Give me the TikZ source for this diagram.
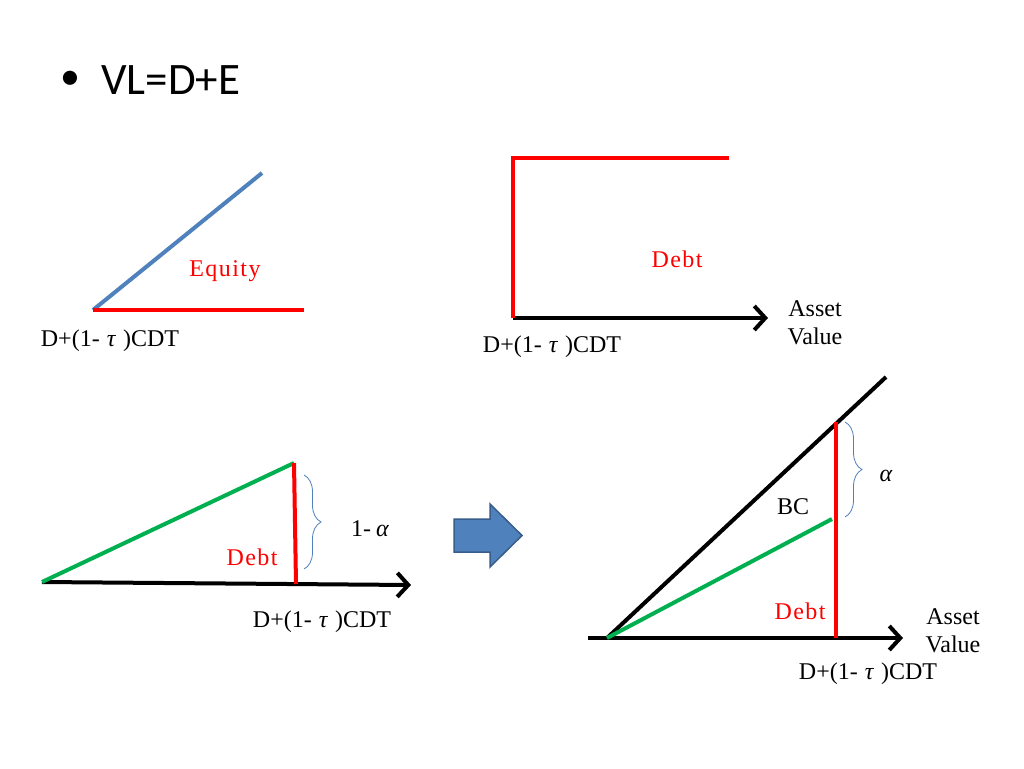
\documentclass[tikz,border=0pt]{standalone}
\usepackage{fontspec}
\setmainfont{Liberation Serif}
\newfontfamily\redfont[LetterSpace=6]{Liberation Serif}
\newfontfamily\slidefont{Carlito}
\usetikzlibrary{arrows.meta,decorations.pathreplacing}

\definecolor{pptred}{rgb}{1.000000, 0.000000, 0.000000}
\definecolor{pptblue}{rgb}{0.309804, 0.505882, 0.741176}
\definecolor{pptgreen}{rgb}{0.000000, 0.690196, 0.313725}
\definecolor{pptborder}{rgb}{0.219608, 0.364706, 0.541176}

\newlength{\du}
\setlength{\du}{1pt}

\newcommand{\cdtlabel}{D+(1-\hspace{7\du}\textit{τ}\hspace{7\du})CDT}

\tikzset{
  redline/.style={draw=pptred,line width=4\du},
  blueline/.style={draw=pptblue,line width=4\du},
  greenline/.style={draw=pptgreen,line width=4\du},
  blackline/.style={draw=black,line width=4\du},
  axisline/.style={draw=black,line width=4\du,-{Straight Barb[length=11pt,width=24pt]}},
  bracepath/.style={draw=pptblue,line width=0.8\du,decorate,decoration={brace,amplitude=17pt}},
  redlabel/.style={text=pptred,font=\redfont\fontsize{24}{28}\selectfont,inner sep=0pt},
  axislabel/.style={font=\fontsize{24}{28}\selectfont,inner sep=0pt},
  stacked/.style={font=\fontsize{24}{28}\selectfont,align=center,inner sep=0pt},
}

\begin{document}
\begin{tikzpicture}[x=1\du,y=-1\du]
\useasboundingbox[fill=white] (0,0) rectangle (1024,768);
% title
\node[font=\slidefont\fontsize{40}{48}\selectfont,inner sep=0pt] (bullet) at (70,80) {•};
\node[font=\slidefont\fontsize{45}{54}\selectfont,inner sep=0pt,anchor=base west] (title) at (101,94) {VL=D+E};
% equity payoff
\coordinate (eqo) at (93,310);
\coordinate (eqtop) at (262,173);
\coordinate (eqend) at (304,310);
\draw[blueline] (eqo)--(eqtop);
\draw[redline] (eqo)--(eqend);
\node[redlabel] (eqlab) at (225,271) {Equity};
\node[axislabel] (eqcdt) at (110,341) {\cdtlabel};
% debt payoff
\coordinate (dbo) at (513,318);
\coordinate (dbup) at (513,158);
\coordinate (dbend) at (729,158);
\coordinate (dbax) at (768,318);
\draw[axisline] (dbo)--(dbax);
\draw[redline] (dbo)--(dbup)--(dbend);
\node[redlabel] (dblab) at (677,259) {Debt};
\node[axislabel] (dbcdt) at (552,347) {\cdtlabel};
\node[stacked] (dbasset) at (815,323) {Asset\\Value};
% recovery, 1-alpha
\coordinate (rco) at (42,582);
\coordinate (rcax) at (411,585);
\coordinate (rctop) at (294,463);
\coordinate (rcfoot) at (296,584);
\coordinate (rcbr) at (304,475);
\coordinate (rcbl) at (304,569);
\draw[axisline] (rco)--(rcax);
\draw[greenline] (rco)--(rctop);
\draw[redline] (rctop)--(rcfoot);
\draw[bracepath] (rcbr)--(rcbl);
\node[axislabel] (rcalpha) at (370,529) {1-\hspace{5\du}\textit{α}};
\node[redlabel] (rclab) at (252,557) {Debt};
\node[axislabel] (rccdt) at (322,622) {\cdtlabel};
% block arrow
\filldraw[fill=pptblue,draw=pptborder,line width=1.5\du] (454,519)--(490,519)--(490,504)--(522,535.5)--(490,567)--(490,552)--(454,552)--cycle;
% bankruptcy cost, alpha
\coordinate (bco) at (588,638);
\coordinate (bcax) at (903,638);
\coordinate (bcstart) at (607,638);
\coordinate (bctop) at (886,377);
\coordinate (bcred) at (836,422);
\coordinate (bcfoot) at (836,638);
\coordinate (bcgreen) at (832,519);
\coordinate (bcbr) at (845,422);
\coordinate (bcbl) at (845,517);
\draw[axisline] (bco)--(bcax);
\draw[blackline] (bcstart)--(bctop);
\draw[redline] (bcred)--(bcfoot);
\draw[greenline] (bcstart)--(bcgreen);
\draw[bracepath] (bcbr)--(bcbl);
\node[axislabel] (bcalpha) at (886,476) {\textit{α}};
\node[axislabel] (bclab) at (793,507) {BC};
\node[redlabel] (bcdebt) at (800,611) {Debt};
\node[stacked] (bcasset) at (953,631) {Asset\\Value};
\node[axislabel] (bccdt) at (868,674) {\cdtlabel};
\end{tikzpicture}
\end{document}
